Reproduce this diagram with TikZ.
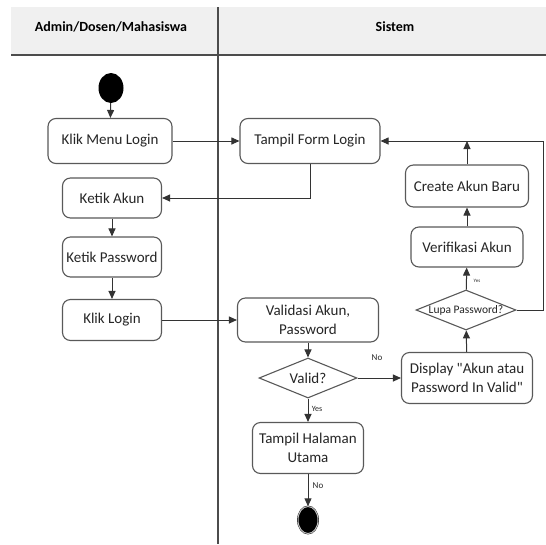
\documentclass[tikz,border=0pt]{standalone}
\usepackage{fontspec}
\setmainfont{Carlito}
\usetikzlibrary{shapes.geometric,arrows.meta}

\begin{document}
\begin{tikzpicture}[x=1pt,y=-1pt,
	line/.style={draw=black!80,line width=1pt,-{Triangle[length=8pt,width=7pt]}},
	act/.style={draw=black!65,line width=1.1pt,rounded corners=8pt,fill=white,align=center,font=\fontsize{15}{19}\selectfont,text=black!85,inner sep=0pt},
	dec/.style={diamond,draw=black!65,line width=1.1pt,fill=white,shape aspect=2.5,inner sep=0pt,minimum width=98pt,minimum height=40pt,text=black!85},
	lbl/.style={font=\fontsize{9}{10}\selectfont,inner sep=1pt,text=black!85}]
	\useasboundingbox (0,0) rectangle (546,544);
	\fill[black!6] (11,7) rectangle (546,55);
	\draw[black!70,line width=1.2pt] (11,55) -- (546,55);
	\draw[black!70,line width=1.2pt] (218,7) -- (218,544);
	\node[font=\bfseries\fontsize{14}{16}\selectfont] (laneuser) at (111,27) {Admin/Dosen/Mahasiswa};
	\node[font=\bfseries\fontsize{14}{16}\selectfont] (lanesys) at (395,27) {Sistem};
	\node[ellipse,fill=black,minimum width=25pt,minimum height=30pt,inner sep=0pt] (start) at (111,88) {};
	\node[act,minimum width=124pt,minimum height=45pt] (klikmenu) at (110,141) {Klik Menu Login};
	\node[act,minimum width=140pt,minimum height=45pt] (tampilform) at (310,141) {Tampil Form Login};
	\node[act,minimum width=99pt,minimum height=40pt] (ketikakun) at (112,198) {Ketik Akun};
	\node[act,minimum width=99pt,minimum height=40pt] (ketikpass) at (112,257) {Ketik Password};
	\node[act,minimum width=99pt,minimum height=41pt] (kliklogin) at (112,320) {Klik Login};
	\node[act,minimum width=141pt,minimum height=44pt] (validasi) at (308,320) {Validasi Akun,\\Password};
	\node[dec] (valid) at (308,378) {\fontsize{15}{17}\selectfont Valid?};
	\node[act,minimum width=131pt,minimum height=51pt] (display) at (467,378) {Display \textquotedbl Akun atau\\Password In Valid\textquotedbl};
	\node[dec,minimum width=100pt] (lupa) at (466,310) {\fontsize{11.5}{13}\selectfont Lupa Password?};
	\node[act,minimum width=112pt,minimum height=40pt] (verifikasi) at (467,247) {Verifikasi Akun};
	\node[act,minimum width=123pt,minimum height=42pt] (create) at (467,186) {Create Akun Baru};
	\node[act,minimum width=111pt,minimum height=51pt] (tampilhal) at (308,448) {Tampil Halaman\\Utama};
	\node[ellipse,fill=black,draw=black,double=black!25,double distance=1pt,minimum width=20pt,minimum height=27pt,inner sep=0pt] (stop) at (308,520) {};
	\coordinate (loopin) at (create.north |- tampilform.east);
	\coordinate (rightup) at (543,141);
	\draw[line] (start) -- (klikmenu);
	\draw[line] (klikmenu) -- (tampilform);
	\draw[line] (tampilform) |- (ketikakun);
	\draw[line] (ketikakun) -- (ketikpass);
	\draw[line] (ketikpass) -- (kliklogin);
	\draw[line] (kliklogin) -- (validasi);
	\draw[line] (validasi) -- (valid);
	\draw[line] (valid) -- (display);
	\draw[line] (valid) -- (tampilhal);
	\draw[line] (tampilhal) -- (stop);
	\draw[line] (display) -- (lupa);
	\draw[line] (lupa) -- (verifikasi);
	\draw[line] (verifikasi) -- (create);
	\draw[line] (create) -- (loopin);
	\draw[line] (lupa.east) -| (rightup) -- (tampilform.east);
	\node[lbl] (nolbl) at (377,358) {No};
	\node[lbl,font=\fontsize{8}{9}\selectfont] (yeslbl) at (317,409) {Yes};
	\node[lbl] (endlbl) at (318,486) {No};
	\node[lbl,font=\fontsize{5}{6}\selectfont] (lupalbl) at (477,281) {Yes};
\end{tikzpicture}
\end{document}
